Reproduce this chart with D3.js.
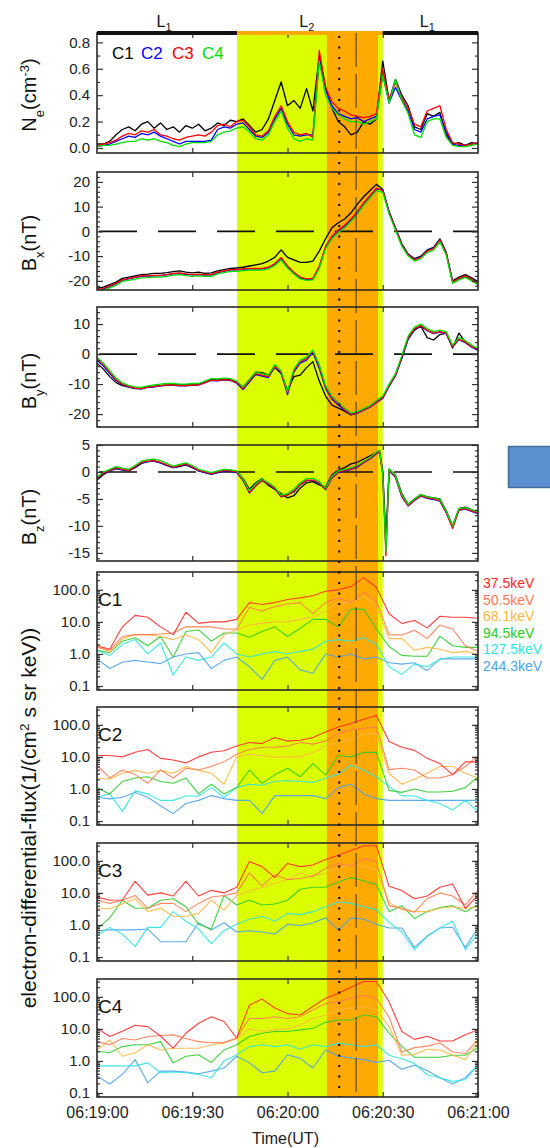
<!DOCTYPE html>
<html><head><meta charset="utf-8">
<script src="https://cdn.jsdelivr.net/npm/d3@7"></script>
<style>
body{margin:0;background:#fff;}
svg{display:block;font-family:"Liberation Sans",Arial,sans-serif;}
</style></head><body>
<svg id="chart" width="550" height="1148"></svg>
<script>
// ---- time grids (seconds after 06:19:00 UT) ----
const fgmTimes = d3.range(0, 121, 2);
const bzTimes = [...d3.range(0, 89, 2), 89, 90, 91, ...d3.range(92, 121, 2)];
const fluxTimes = d3.range(0, 121, 4);
const timeTicks = [0, 30, 60, 90, 120];
const timeTickLabels = ["06:19:00", "06:19:30", "06:20:00", "06:20:30", "06:21:00"];

// ---- spacecraft ----
const spacecraft = ["C1", "C2", "C3", "C4"];
const scColors = ["#000000", "#0000ff", "#ff0000", "#00dd00"];

// ---- intervals and markers ----
const yellowSpan = [44.1, 90.0];
const orangeSpan = [72.4, 88.5];
const dottedTime = 76.3;
const dashedTime = 81.6;
const regionLabels = ["1", "2", "1"];
const regionSpans = [[0, 44.1], [44.1, 90.0], [90.0, 120]];

// ---- electron density (cm^-3) ----
const neC1 = [0.03,0.03,0.05,0.10,0.14,0.16,0.13,0.18,0.20,0.15,0.19,0.14,0.16,0.12,0.17,0.15,0.18,0.13,0.15,0.19,0.17,0.21,0.20,0.22,0.17,0.12,0.14,0.22,0.36,0.50,0.32,0.36,0.30,0.45,0.28,0.70,0.46,0.30,0.20,0.16,0.10,0.12,0.20,0.18,0.22,0.66,0.36,0.52,0.40,0.32,0.16,0.14,0.26,0.24,0.27,0.10,0.03,0.04,0.02,0.04,0.03];
const neC2 = [0.01,0.02,0.03,0.05,0.07,0.09,0.08,0.11,0.10,0.12,0.09,0.07,0.05,0.03,0.05,0.05,0.05,0.05,0.06,0.14,0.16,0.15,0.18,0.19,0.14,0.09,0.08,0.12,0.22,0.30,0.18,0.10,0.09,0.10,0.10,0.68,0.44,0.32,0.26,0.24,0.22,0.23,0.20,0.22,0.24,0.56,0.34,0.46,0.36,0.28,0.14,0.12,0.22,0.24,0.25,0.12,0.03,0.02,0.02,0.03,0.04];
const neC3 = [0.02,0.03,0.04,0.06,0.09,0.11,0.10,0.13,0.12,0.14,0.10,0.09,0.07,0.06,0.08,0.09,0.10,0.09,0.12,0.17,0.18,0.16,0.20,0.21,0.16,0.10,0.09,0.13,0.24,0.32,0.20,0.12,0.10,0.11,0.08,0.74,0.46,0.35,0.30,0.28,0.25,0.24,0.23,0.24,0.26,0.60,0.36,0.50,0.38,0.30,0.18,0.16,0.28,0.30,0.32,0.14,0.04,0.03,0.02,0.03,0.04];
const neC4 = [0.01,0.02,0.02,0.03,0.04,0.05,0.05,0.07,0.06,0.07,0.05,0.04,0.02,0.01,0.03,0.04,0.04,0.04,0.05,0.10,0.12,0.13,0.15,0.16,0.12,0.07,0.06,0.10,0.20,0.28,0.15,0.07,0.05,0.07,0.06,0.66,0.40,0.30,0.25,0.22,0.20,0.20,0.18,0.20,0.22,0.55,0.34,0.52,0.36,0.26,0.10,0.08,0.20,0.22,0.22,0.08,0.02,0.01,0.01,0.02,0.03];

// ---- magnetic field Bx (nT) ----
const bxC1 = [-23,-22.5,-21.5,-20.5,-19,-18.5,-18,-17.5,-17.3,-17,-17,-16.7,-16.3,-16,-16.5,-16.8,-16.5,-17,-16.8,-16,-15.5,-15,-14.8,-14.5,-14,-13.5,-13,-12,-10.5,-7.5,-10.5,-11.5,-12.5,-12.5,-12,-8,-3,1.5,3.5,5,7.5,11,14,16.5,19,17,8,1.5,-5,-9.2,-11,-10,-7.5,-6.5,-3,-8.5,-20,-18.5,-17.5,-18.8,-20.3];
const bxC2 = [-23.8,-23.2,-22.3,-21.2,-19.8,-19.2,-18.6,-18.2,-18.1,-18,-17.9,-17.6,-17.2,-17,-17.4,-17.6,-17.5,-17.7,-17.6,-16.7,-16.2,-15.7,-15.6,-15.4,-15.2,-15.1,-15.2,-14.6,-13.3,-11,-14.3,-16.8,-18.8,-19.5,-19.3,-14.5,-6.5,-2.4,0.2,2.2,4.7,7.7,11.2,14.2,17.2,16.8,7.8,1.2,-5.3,-9.3,-11.3,-10.3,-7.8,-6.8,-3.3,-8.8,-20.3,-19.2,-18.2,-19.6,-21.2];
const bxC3 = [-23.5,-23,-22,-21,-19.5,-19,-18.5,-18,-18,-17.8,-17.8,-17.5,-17,-16.8,-17.2,-17.5,-17.3,-17.5,-17.5,-16.5,-16,-15.5,-15.5,-15.2,-15,-15,-15,-14.5,-13,-10.5,-14,-16.5,-18.5,-19.2,-19,-14,-6,-2,0.5,2.5,5,8,11.5,14.5,17.5,16.5,7.5,1,-5.5,-9.5,-11.5,-10.5,-8,-7,-3.5,-9,-20.5,-19,-18,-19.5,-21];
const bxC4 = [-24,-23.6,-22.8,-21.8,-20.2,-19.8,-19.3,-18.8,-18.7,-18.5,-18.5,-18.2,-17.7,-17.5,-17.9,-18.2,-18,-18.2,-18.2,-17.2,-16.7,-16.2,-16.2,-15.9,-15.7,-15.7,-15.7,-15.2,-13.8,-11.5,-14.8,-17.2,-19.2,-19.8,-19.6,-15,-7,-3,-0.5,1.5,4,7,10.5,13.5,16.5,15.8,7,0.5,-6,-10,-12,-11,-8.6,-7.6,-4.2,-9.6,-21,-19.6,-18.6,-20,-21.6];

// ---- magnetic field By (nT) ----
const byC1 = [-3,-5,-7.5,-9.5,-10.5,-11,-11.5,-11.5,-11,-10.8,-10.5,-10.3,-10.2,-10.3,-10.3,-10.2,-10,-9.3,-8.5,-8.5,-8.3,-8.5,-9.3,-11,-8.5,-6,-6.2,-7,-4.5,-6.5,-12,-7.5,-7,-4.5,-2.5,-9,-14,-17,-18,-19,-20.3,-19.5,-18.3,-17.3,-15.8,-14.5,-10.5,-7,-1.5,5,8,9.3,5.5,4.7,6.5,7,2,7,4,2.5,1.2];
const byC2 = [-2,-4,-6.5,-8.8,-10.2,-10.9,-11.4,-11.6,-11.1,-10.9,-10.6,-10.4,-10.4,-10.6,-10.6,-10.4,-10.3,-9.6,-8.8,-8.9,-8.6,-8.8,-9.7,-11.8,-9.3,-6.8,-7.3,-7.8,-4.3,-6.3,-13.5,-6,-3,-2,0.5,-4.8,-11.5,-15,-17,-18.8,-20.2,-19.7,-18.7,-17.7,-16.2,-14.8,-10.8,-7.3,-1.3,5.2,8.3,9.3,7.8,6.8,7.3,6.8,2.3,4.8,3.8,2.3,1.3];
const byC3 = [-1.5,-3.5,-6,-8.5,-10,-10.8,-11.3,-11.5,-11,-10.8,-10.5,-10.3,-10.3,-10.5,-10.5,-10.3,-10.3,-9.5,-8.7,-8.8,-8.5,-8.7,-9.5,-11.5,-9,-6.5,-7,-7.5,-4,-6,-13,-5.5,-2.5,-1.5,1,-4,-11,-14.5,-16.5,-18.5,-20,-19.5,-18.5,-17.5,-16,-14.5,-10.5,-7,-1,5.5,8.5,9.5,8,7,7.5,7,2.5,5,4,2.5,1.5];
const byC4 = [-1,-3,-5.5,-8,-9.6,-10.4,-10.9,-11.1,-10.6,-10.3,-10,-9.8,-9.8,-10,-10,-9.8,-9.8,-9,-8.2,-8.3,-8,-8.2,-9,-11,-8.5,-6,-6.5,-7,-3.5,-5.5,-12.5,-5,-2,-1,1.3,-3.5,-10.5,-14,-16,-18,-19.6,-19.2,-18.2,-17.2,-15.5,-14,-10,-6.5,-0.5,6,9,10,8.5,7.5,8,7.5,3,5.5,4.5,3,2];

// ---- magnetic field Bz (nT), on bzTimes ----
const bzC1 = [-1.5,-0.5,0.2,0.6,0.4,0.2,0.8,1.6,1.9,2.0,1.7,1.2,0.8,1.0,1.3,0.8,0.2,-0.1,-0.4,-0.1,0.2,0.3,0.1,-1.2,-3.2,-2.0,-1.2,-2.5,-3.2,-4.0,-4.8,-4.4,-3.0,-2.0,-1.8,-2.4,-2.8,-0.5,0.3,0.8,1.5,1.8,2.4,3.0,3.6,3.9,0.2,-12.5,0.5,-0.6,-4.0,-6.0,-5.0,-4.2,-4.6,-4.8,-5.0,-7.2,-10.0,-6.8,-6.5,-7.0,-7.4];
const bzC2 = [-1.3,-0.3,0.2,0.7,0.4,0.3,0.9,1.7,1.9,2.0,1.7,1.2,0.8,1.1,1.4,0.9,0.2,-0.1,-0.4,-0.1,0.2,0.1,-0.1,-1.6,-3.9,-2.6,-1.6,-2.3,-3.1,-4.6,-4.2,-3.7,-2.4,-1.6,-1.6,-2.1,-3.3,-1.1,-0.1,0.2,0.5,0.9,1.7,2.4,3.4,3.7,-0.3,-14.0,0.2,-1.0,-4.6,-6.3,-5.3,-4.5,-4.9,-5.1,-5.4,-7.6,-10.2,-7.1,-6.9,-7.3,-7.7];
const bzC3 = [-1.2,-0.2,0.3,0.8,0.5,0.3,1.0,1.8,2.0,2.1,1.8,1.3,0.9,1.2,1.5,1.0,0.3,0.0,-0.3,0.0,0.3,0.2,0.0,-1.5,-3.8,-2.5,-1.5,-2.2,-3.0,-4.5,-4.3,-3.5,-2.3,-1.5,-1.5,-2.0,-3.2,-1.0,0.0,0.3,0.6,1.0,1.8,2.5,3.5,3.8,-0.5,-15.5,0.3,-0.9,-4.5,-6.2,-5.2,-4.4,-4.8,-5.0,-5.3,-7.5,-10.5,-7.0,-6.8,-7.2,-7.6];
const bzC4 = [-1.0,0.0,0.5,1.0,0.7,0.5,1.2,2.0,2.3,2.4,2.1,1.6,1.1,1.4,1.7,1.2,0.5,0.2,-0.1,0.2,0.5,0.4,0.2,-1.3,-3.5,-2.2,-1.3,-2.0,-2.8,-4.3,-4.0,-3.2,-2.0,-1.2,-1.2,-1.8,-3.0,-0.8,0.2,0.5,0.8,1.2,2.0,2.7,3.7,4.0,-0.2,-14.8,0.6,-0.7,-4.2,-6.0,-5.0,-4.2,-4.6,-4.8,-5.1,-7.3,-10.0,-6.8,-6.6,-7.0,-7.4];

// ---- electron differential flux, 1/(cm^2 s sr keV), one row per energy channel ----
const energies = ["37.5keV", "50.5keV", "68.1keV", "94.5keV", "127.5keV", "244.3keV"];
const energyColors = ["#ff2a2a", "#ff7a52", "#ffb640", "#2ccc2c", "#2ee2e2", "#4aa2f0"];
const fluxC1 = [
  [1.8,1.4,7,16,14,7,4,20,9,10,10,12,40,35,40,50,56,65,90,100,126,240,120,18,9,11,6.5,15,14,14,13],
  [1.6,1.3,3.5,4,4,4.2,4.5,7,7,7,6,6,28,22,30,36,40,18,40,56,40,85,45,4,3.9,5.5,3,8,6,1.8,1.2],
  [2,1.1,3,4,4,3.5,2.8,4,2.8,1.1,4,5.6,8,9,10,10,12,14,22,40,40,63,30,3,3,1.3,1.6,1.4,1.1,1.2,1],
  [1.3,1.1,2.5,3.2,1.8,3.5,0.8,5,5.6,2.5,4.5,4.5,3.3,5,7,3.5,6.3,12,12,7,25,25,6,1.7,0.9,0.85,0.85,3.6,1.8,1.6,1.6],
  [1.3,0.9,2,2.8,1,2.2,0.22,0.8,0.63,0.8,2.2,1,0.8,1,1.2,1,1.2,1.4,2.5,2.8,2.5,3.2,2,0.4,0.23,0.48,0.4,0.68,0.8,0.8,0.8],
  [0.7,0.35,0.55,0.63,0.56,0.5,0.8,1,1.1,0.35,0.63,0.8,0.4,0.16,0.63,0.8,0.32,0.25,1,0.8,1,0.7,0.8,0.53,0.48,0.53,0.3,0.7,0.7,0.7,0.7]
];
const fluxC2 = [
  [11,11,10,14,17,9,8,6.5,10,14,15.5,22,28,26,40,31,33,40,60,85,110,150,195,30,20,16,9,6.2,2.8,7,7],
  [5.5,2.2,3.9,2.8,1.5,3.9,2.2,4.4,3.9,5,7,12,17,20,20,22,28,25,31,55,70,78,87,4,4.4,3.9,2.2,2.2,2.8,5,11],
  [2.2,2,3.1,3.8,3.1,3.8,3.1,5,3.8,3.1,1.4,10,12,11,9.8,10,10,13.8,22,28,35,49,55,3,1.4,2,3.1,5,5,3.1,2.2],
  [1.1,0.7,1.7,2.2,2.4,1.7,1.5,2.2,0.7,1.4,0.7,1.1,3.9,1.5,2.75,4.4,2.4,6.2,2.7,11,10,13.8,13.8,0.9,0.78,1,0.8,0.8,0.85,1.1,2.4],
  [0.55,0.7,0.2,0.87,0.7,0.44,0.44,0.6,0.6,1.1,0.55,1.1,1.4,1.3,1.74,1.8,1.74,1.6,2.2,2.9,5.5,3.9,2.4,1.2,0.62,0.6,0.44,0.35,0.22,0.44,0.2],
  [0.55,0.49,0.55,0.78,0.55,0.3,0.17,0.35,0.44,0.62,0.5,0.44,0.44,0.17,0.62,0.62,0.62,0.62,0.5,1.1,1.4,0.7,0.5,0.44,0.44,0.44,0.44,0.44,0.44,0.44,0.44]
];
const fluxC3 = [
  [7.4,5.9,6,23,8.5,10,8,23,8,12,10,15,95,66,30,83,66,74,110,150,209,295,295,16,11.8,6.6,8,15,19,3.3,8.3],
  [5.9,4.7,5.9,8.3,3.3,4.7,4.7,2.6,4.7,7.4,8.3,10,42,16.6,37,26,28,33,59,83,70,117,95,4,3.3,2.5,6.6,10,8,4.2,12],
  [3.3,3.2,4.5,6.6,2.6,3.3,1.86,1.86,2.3,5.9,2.9,8.3,11.7,14.8,20,26,42,33,42,59,83,65,52,5,3,2.6,2.6,3.3,3.7,3.3,3.7],
  [0.74,1.66,5.9,3.3,3.3,5.9,6.6,3.7,1.05,0.74,8.3,4.2,5.9,4.2,4.5,5.9,13,15,15,22,30,24,18,2.6,4,1.6,2.6,3.5,4,2.6,4.2],
  [0.47,0.84,0.52,0.21,0.84,0.84,2.6,1.3,0.74,0.26,0.66,1.05,1.5,1.86,1.3,2.3,2.1,2.6,3.7,5.2,4.7,3.7,3,1.2,0.6,0.17,0.44,0.8,1.3,0.17,0.55],
  [0.66,0.7,0.7,0.7,0.75,0.3,0.3,0.3,1.17,0.7,1.17,0.6,0.66,0.6,0.52,1.05,0.95,1.17,1.66,0.7,1.66,1.5,1.05,0.8,0.8,0.2,0.45,0.8,0.85,0.2,0.8]
];
const fluxC4 = [
  [10.5,5.8,8.5,13,11.8,6,2.5,7.3,15,24,17,5.2,55,85,45,30,27,50,90,130,200,300,300,70,8.3,4.7,5.9,4.2,4.2,6.6,9.3],
  [4,3.2,5,4.5,5.8,6.2,6.5,5,4,3.7,3.8,5.2,21,21,24,21,24,39,62,70,89,112,89,23,1.9,2.6,2.9,3.7,1.9,1.7,4.7],
  [2.2,4.5,1.4,1.8,3.2,2.2,2.5,2.5,2.5,3.2,3.6,5,10,8.3,9.3,10,13,21,27,39,44,49,40,11.8,1.5,1.6,2.3,2.2,1.5,1.1,3.7],
  [2,1.8,2.8,3.2,3.2,4,0.87,1.4,1.56,0.9,2.2,3.2,5.8,7.3,8.3,8.3,9.3,10.5,16,19,19,27,24,7.4,2.9,1.3,1.3,1.3,1.5,1.5,2.6],
  [0.7,0.7,0.7,0.7,0.87,0.43,0.45,0.43,0.38,0.3,1,1.56,2.8,3.2,2.8,3.2,2.3,3.2,2.8,3.6,3.2,2.8,3.2,1.5,1.17,0.84,0.37,0.3,0.23,0.26,0.74],
  [0.34,0.19,0.38,1.1,0.21,0.48,0.48,0.45,0.4,0.48,0.6,1.4,0.87,0.43,0.48,1.56,1.2,0.6,2.2,1.4,1.25,1.1,0.9,1.05,0.55,0.74,0.5,0.3,0.19,0.3,0.74]
];

// ---- tick values ----
const neTicks = [0, 0.2, 0.4, 0.6, 0.8];
const bxTicks = [-20, -10, 0, 10, 20];
const byTicks = [-20, -10, 0, 10];
const bzTicks = [-15, -10, -5, 0, 5];
const fluxTicks = [0.1, 1, 10, 100];

// ================= drawing =================
const svg = d3.select("#chart");
const xLeft = 97, xRight = 478;
const bandTop = 33, bandBottom = 1097;
const x = d3.scaleLinear().domain([0, 120]).range([xLeft, xRight]);
const fontFam = '"Liberation Sans", Arial, sans-serif';

const plain = d => String(d);
const oneDec = d3.format(".1f");

const panels = [
  {top: 33,  bottom: 153, domain: [-0.038, 0.871], ticks: neTicks, minorStep: 0.1, fmt: oneDec, times: fgmTimes, series: [neC1, neC2, neC3, neC4], colors: scColors},
  {top: 172, bottom: 290, domain: [-23.7, 24],  ticks: bxTicks, minorStep: 2, fmt: plain, zero: true, times: fgmTimes, series: [bxC1, bxC2, bxC3, bxC4], colors: scColors},
  {top: 307, bottom: 427, domain: [-24.3, 15.7], ticks: byTicks, minorStep: 2, fmt: plain, zero: true, times: fgmTimes, series: [byC1, byC2, byC3, byC4], colors: scColors},
  {top: 445, bottom: 561, domain: [-16.5, 5.0], ticks: bzTicks, minorStep: 1, fmt: plain, zero: true, times: bzTimes, series: [bzC1, bzC2, bzC3, bzC4], colors: scColors},
  {top: 572, bottom: 690, log: true, domain: [0.075, 360], ticks: fluxTicks, fmt: oneDec, times: fluxTimes, series: fluxC1, colors: energyColors, label: spacecraft[0], legend: true},
  {top: 707, bottom: 825, log: true, domain: [0.075, 360], ticks: fluxTicks, fmt: oneDec, times: fluxTimes, series: fluxC2, colors: energyColors, label: spacecraft[1]},
  {top: 843, bottom: 961, log: true, domain: [0.075, 360], ticks: fluxTicks, fmt: oneDec, times: fluxTimes, series: fluxC3, colors: energyColors, label: spacecraft[2]},
  {top: 979, bottom: 1097, log: true, domain: [0.075, 360], ticks: fluxTicks, fmt: oneDec, times: fluxTimes, series: fluxC4, colors: energyColors, label: spacecraft[3], timeAxis: true}
];

// shaded intervals across all panels
svg.append("rect").attr("x", x(yellowSpan[0])).attr("y", bandTop)
  .attr("width", x(yellowSpan[1]) - x(yellowSpan[0])).attr("height", bandBottom - bandTop)
  .attr("fill", "#dcff00");
svg.append("rect").attr("x", x(orangeSpan[0])).attr("y", bandTop)
  .attr("width", x(orangeSpan[1]) - x(orangeSpan[0])).attr("height", bandBottom - bandTop)
  .attr("fill", "#ffaa00");

const defs = svg.append("defs");

function styleAxis(a) {
  a.select(".domain").remove();
  a.selectAll(".tick line").attr("stroke", "#333").attr("stroke-width", 1.2);
  a.selectAll(".tick text").attr("font-size", 15).attr("font-family", fontFam).attr("fill", "#222");
}

panels.forEach((p, pi) => {
  const y = (p.log ? d3.scaleLog() : d3.scaleLinear()).domain(p.domain).range([p.bottom, p.top]);
  const g = svg.append("g");

  defs.append("clipPath").attr("id", "clip" + pi)
    .append("rect").attr("x", xLeft).attr("y", p.top)
    .attr("width", xRight - xLeft).attr("height", p.bottom - p.top);

  if (p.zero) {
    g.append("line").attr("x1", xLeft + 2).attr("x2", xRight)
      .attr("y1", y(0)).attr("y2", y(0))
      .attr("stroke", "#111").attr("stroke-width", 1.6).attr("stroke-dasharray", "38,21");
  }

  const line = d3.line().x((d, i) => x(p.times[i])).y(d => y(d));
  const lg = g.append("g").attr("clip-path", `url(#clip${pi})`);
  const order = p.log ? d3.range(p.series.length).reverse() : d3.range(p.series.length);
  order.forEach(si => {
    lg.append("path").attr("d", line(p.series[si]))
      .attr("fill", "none").attr("stroke", p.colors[si])
      .attr("stroke-width", p.log ? 1.1 : 1.3)
      .attr("stroke-opacity", p.log ? 0.9 : 1)
      .attr("stroke-linejoin", "round");
  });

  // minor tick values
  let minor;
  if (p.log) {
    minor = [];
    [-2, -1, 0, 1, 2].forEach(e => d3.range(2, 10).forEach(m => {
      const v = m * Math.pow(10, e);
      if (v > p.domain[0] && v < p.domain[1]) minor.push(v);
    }));
  } else {
    minor = d3.range(Math.ceil(p.domain[0] / p.minorStep) * p.minorStep, p.domain[1], p.minorStep)
      .filter(v => !p.ticks.some(t => Math.abs(t - v) < 1e-9));
  }

  g.append("g").attr("transform", `translate(${xLeft},0)`)
    .call(d3.axisLeft(y).tickValues(p.ticks).tickSize(-6).tickPadding(7).tickFormat(p.fmt)).call(styleAxis);
  g.append("g").attr("transform", `translate(${xLeft},0)`)
    .call(d3.axisLeft(y).tickValues(minor).tickSize(-3).tickFormat("")).call(styleAxis);
  g.append("g").attr("transform", `translate(${xRight},0)`)
    .call(d3.axisRight(y).tickValues(p.ticks).tickSize(-6).tickFormat("")).call(styleAxis);
  g.append("g").attr("transform", `translate(${xRight},0)`)
    .call(d3.axisRight(y).tickValues(minor).tickSize(-3).tickFormat("")).call(styleAxis);
  g.append("g").attr("transform", `translate(0,${p.top})`)
    .call(d3.axisTop(x).tickValues([30, 60, 90]).tickSize(-5).tickFormat("")).call(styleAxis);
  if (p.timeAxis) {
    g.append("g").attr("transform", `translate(0,${p.bottom})`)
      .call(d3.axisBottom(x).tickValues(timeTicks).tickSize(-5).tickPadding(10)
        .tickFormat((d, i) => timeTickLabels[i])).call(styleAxis)
      .call(a => a.selectAll(".tick text").attr("font-size", 16));
  } else {
    g.append("g").attr("transform", `translate(0,${p.bottom})`)
      .call(d3.axisBottom(x).tickValues([30, 60, 90]).tickSize(-5).tickFormat("")).call(styleAxis);
  }

  g.append("rect").attr("x", xLeft).attr("y", p.top)
    .attr("width", xRight - xLeft).attr("height", p.bottom - p.top)
    .attr("fill", "none").attr("stroke", "#2a2a2a").attr("stroke-width", 1.6);

  if (p.label) {
    g.append("text").attr("x", 98).attr("y", p.top + 34)
      .attr("font-size", 19).attr("font-family", fontFam).attr("fill", "#111").text(p.label);
  }
  if (p.legend) {
    energies.forEach((e, i) => {
      svg.append("text").attr("x", 483).attr("y", 588 + i * 16.6)
        .attr("font-size", 14).attr("font-family", fontFam)
        .attr("fill", energyColors[i]).text(e);
    });
  }
});

// region bar along the top of the first panel
regionSpans.forEach((s, i) => {
  svg.append("rect").attr("x", x(s[0])).attr("y", 31).attr("width", x(s[1]) - x(s[0])).attr("height", 4)
    .attr("fill", i === 1 ? "#ffaa00" : "#111");
  const t = svg.append("text").attr("x", x((s[0] + s[1]) / 2) - 3).attr("y", 27)
    .attr("font-size", 16).attr("font-family", fontFam).attr("fill", "#111").attr("text-anchor", "middle");
  t.append("tspan").text("L");
  t.append("tspan").attr("font-size", 11).attr("dy", 4).text(regionLabels[i]);
});

// event markers
svg.append("line").attr("x1", x(dottedTime)).attr("x2", x(dottedTime))
  .attr("y1", 36).attr("y2", bandBottom)
  .attr("stroke", "#000").attr("stroke-width", 2).attr("stroke-dasharray", "2,8.5");
svg.append("line").attr("x1", x(dashedTime)).attr("x2", x(dashedTime))
  .attr("y1", bandTop).attr("y2", bandBottom)
  .attr("stroke", "#333").attr("stroke-width", 1).attr("stroke-dasharray", "34,7");

// spacecraft legend in density panel
const legX = [112, 141, 172, 202];
spacecraft.forEach((s, i) => {
  svg.append("text").attr("x", legX[i]).attr("y", 59).attr("font-size", 17)
    .attr("font-family", fontFam).attr("fill", scColors[i]).text(s);
});

// y-axis titles
function yTitle(cx, cy, parts, size) {
  const t = svg.append("text").attr("transform", `translate(${cx},${cy}) rotate(-90)`)
    .attr("text-anchor", "middle").attr("font-size", size).attr("font-family", fontFam).attr("fill", "#111");
  parts.forEach(pt => {
    const ts = t.append("tspan").text(pt.t);
    if (pt.sub) ts.attr("font-size", size * 0.65).attr("baseline-shift", "sub");
    if (pt.sup) ts.attr("font-size", size * 0.65).attr("baseline-shift", "super");
  });
}
yTitle(36, 95, [{t: "N"}, {t: "e", sub: true}, {t: "(cm"}, {t: "-3", sup: true}, {t: ")"}], 20);
yTitle(36, 243, [{t: "B"}, {t: "x", sub: true}, {t: "(nT)"}], 20);
yTitle(36, 381, [{t: "B"}, {t: "y", sub: true}, {t: "(nT)"}], 20);
yTitle(36, 517, [{t: "B"}, {t: "z", sub: true}, {t: "(nT)"}], 20);
yTitle(36, 818, [{t: "electron-differential-flux(1/(cm"}, {t: "2", sup: true}, {t: " s sr keV))"}], 21);

// x-axis title
svg.append("text").attr("x", x(60) - 2).attr("y", 1144).attr("text-anchor", "middle")
  .attr("font-size", 16).attr("font-family", fontFam).attr("fill", "#222").text("Time(UT)");

// side marker box
svg.append("rect").attr("x", 508.5).attr("y", 446.5).attr("width", 50).attr("height", 41)
  .attr("fill", "#5b8fd0").attr("stroke", "#41719c").attr("stroke-width", 1.5);
</script>
</body></html>
